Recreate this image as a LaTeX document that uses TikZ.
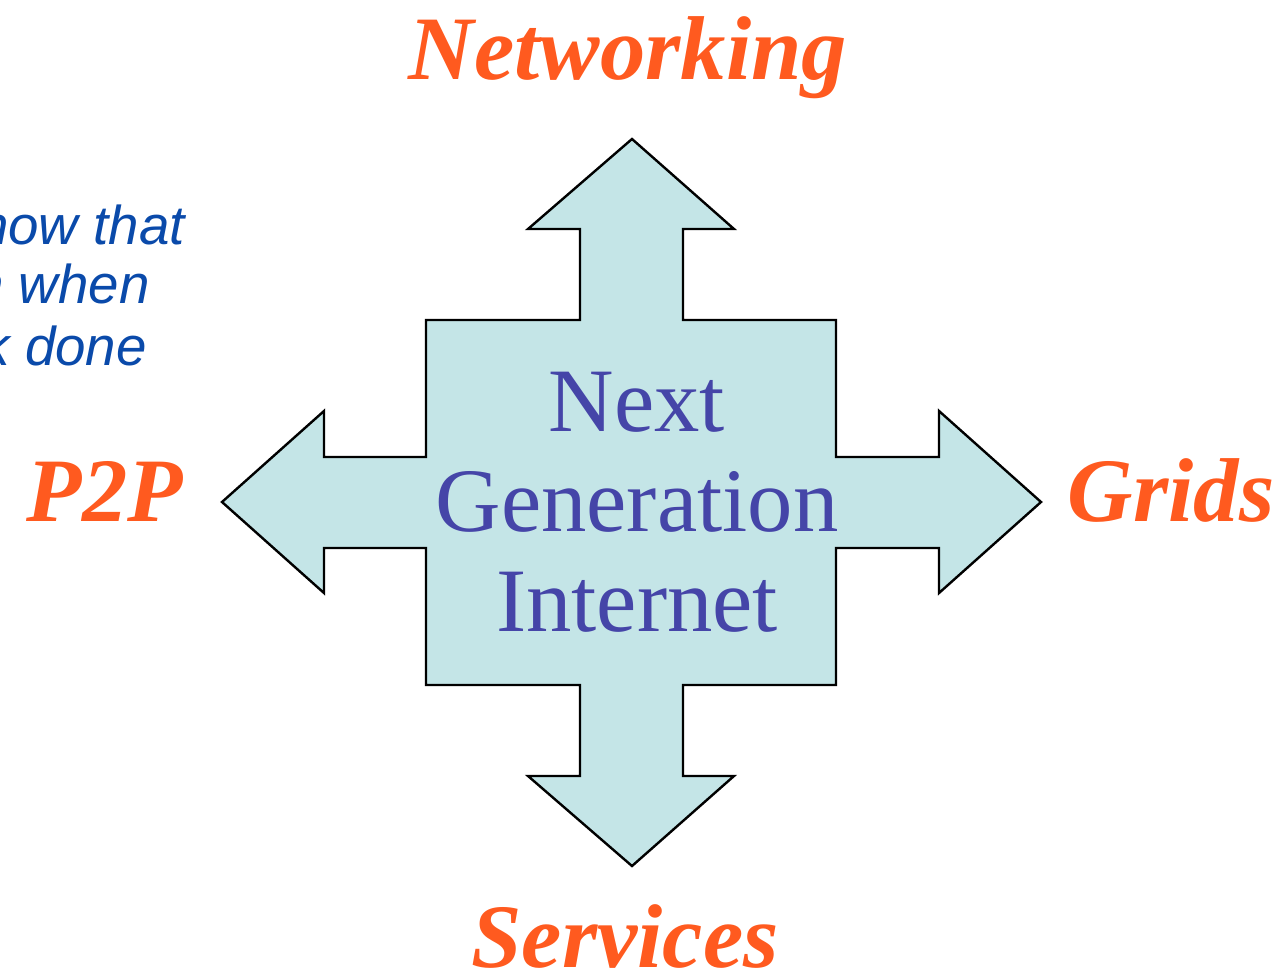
\documentclass[tikz,border=0pt]{standalone}
\usepackage{fontspec}
\setmainfont{Liberation Serif}
\setsansfont{Liberation Sans}
\usepackage{tikz}
\usetikzlibrary{positioning}

\definecolor{crossfill}{HTML}{C4E5E7}
\definecolor{topicorange}{HTML}{FF5A1F}
\definecolor{centreblue}{HTML}{4545A8}
\definecolor{noteblue}{HTML}{0A4AAA}

\tikzset{
  topic/.style={text=topicorange, inner sep=0pt, anchor=base,
    font=\fontsize{68}{68}\selectfont\bfseries\itshape},
  note/.style={text=noteblue, inner sep=0pt, anchor=base east,
    font=\fontsize{41}{45}\selectfont\sffamily\itshape},
}

\begin{document}
\begin{tikzpicture}[x=0.75pt, y=-0.75pt]
\useasboundingbox (0,0) rectangle (1280,970);
\clip (0,0) rectangle (1280,970);

% the four-way arrow
\draw[fill=crossfill, line width=1.8pt, line join=miter]
  (632,139) -- (734,229) -- (683,229) -- (683,320) -- (836,320)
  -- (836,457) -- (939,457) -- (939,411) -- (1041,502) -- (939,593)
  -- (939,548) -- (836,548) -- (836,685) -- (683,685) -- (683,776)
  -- (734,776) -- (632,866) -- (528,776) -- (580,776) -- (580,685)
  -- (426,685) -- (426,548) -- (324,548) -- (324,593) -- (222,502)
  -- (324,411) -- (324,457) -- (426,457) -- (426,320) -- (580,320)
  -- (580,229) -- (528,229) -- cycle;

\node[align=center, text=centreblue, inner sep=0pt,
  font=\fontsize{68}{75}\selectfont] (NGI) at (637,502)
  {Next\\Generation\\Internet};

\node[topic] (Net) at (628,80) {Networking};
\node[topic] (Serv) at (625,967) {Services};
\node[topic] (P2P) at (105,521) {P2P};
\node[topic] (Grids) at (1171,521) {Grids};

\node[note] (noteA) at (185,244) {now that};
\node[note] (noteB) at (150,303) {n when};
\node[note] (noteC) at (147,365) {k done};
\end{tikzpicture}
\end{document}
